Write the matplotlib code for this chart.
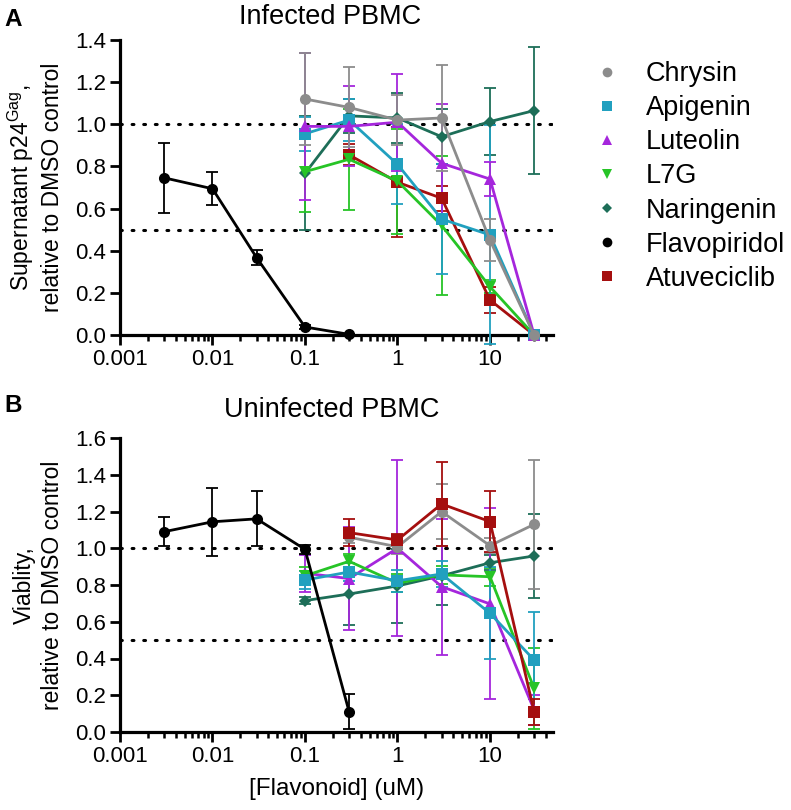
import matplotlib
matplotlib.use("Agg")
import matplotlib.pyplot as plt
from matplotlib.lines import Line2D
from matplotlib.ticker import LogLocator, FixedLocator, NullFormatter, FixedFormatter
import numpy as np

plt.rcParams['font.family'] = ['Liberation Sans', 'DejaVu Sans']
plt.rcParams['mathtext.fontset'] = 'custom'
plt.rcParams['mathtext.rm'] = 'Liberation Sans'
plt.rcParams['mathtext.it'] = 'Liberation Sans:italic'

# ---------------- data ----------------
conc_flavo = [0.003, 0.01, 0.03, 0.1, 0.3]
conc_fl = [0.1, 0.3, 1, 3, 10, 30]
conc_from03 = [0.3, 1, 3, 10, 30]

names = ["Chrysin", "Apigenin", "Luteolin", "L7G", "Naringenin", "Flavopiridol", "Atuveciclib"]
colors = {"Chrysin": "#8c8c8c", "Apigenin": "#21a0bf", "Luteolin": "#a526dc",
          "L7G": "#26c426", "Naringenin": "#1d6e58", "Flavopiridol": "#000000",
          "Atuveciclib": "#a50f0f"}
markers = {"Chrysin": "o", "Apigenin": "s", "Luteolin": "^", "L7G": "v",
           "Naringenin": "D", "Flavopiridol": "o", "Atuveciclib": "s"}

# Panel A: infected PBMC, supernatant p24
a_chrysin = [1.12, 1.08, 1.02, 1.03, 0.45, 0.0]
a_chrysin_err = [0.22, 0.19, 0.12, 0.25, 0.10, 0.0]
a_apigenin = [0.955, 1.02, 0.81, 0.55, 0.475, 0.0]
a_apigenin_err = [0.08, 0.10, 0.19, 0.26, 0.52, 0.0]
a_luteolin = [0.99, 0.99, 1.01, 0.815, 0.74, 0.0]
a_luteolin_err = [0.35, 0.19, 0.23, 0.28, 0.08, 0.0]
a_l7g = [0.775, 0.834, 0.73, 0.52, 0.229, 0.0]
a_l7g_err = [0.19, 0.24, 0.25, 0.33, 0.03, 0.0]
a_naringenin = [0.767, 1.04, 1.03, 0.941, 1.013, 1.065]
a_naringenin_err = [0.27, 0.08, 0.12, 0.13, 0.16, 0.30]
a_flavo = [0.746, 0.694, 0.367, 0.038, 0.003]
a_flavo_err = [0.165, 0.078, 0.035, 0.01, 0.0]
a_atuveciclib = [0.855, 0.725, 0.649, 0.166, 0.0]
a_atuveciclib_err = [0.05, 0.26, 0.06, 0.06, 0.0]

# Panel B: uninfected PBMC, viability
b_chrysin = [1.06, 1.008, 1.199, 1.014, 1.13]
b_chrysin_err = [0.03, 0.04, 0.15, 0.04, 0.35]
b_apigenin = [0.827, 0.871, 0.823, 0.86, 0.646, 0.392]
b_apigenin_err = [0.05, 0.05, 0.06, 0.07, 0.25, 0.26]
b_luteolin = [0.864, 0.835, 1.0, 0.791, 0.697, 0.12]
b_luteolin_err = [0.10, 0.28, 0.48, 0.37, 0.52, 0.08]
b_l7g = [0.85, 0.929, 0.81, 0.855, 0.845, 0.238]
b_l7g_err = [0.05, 0.04, 0.05, 0.05, 0.05, 0.22]
b_naringenin = [0.715, 0.751, 0.795, 0.85, 0.921, 0.958]
b_naringenin_err = [0.02, 0.17, 0.20, 0.16, 0.04, 0.23]
b_flavo = [1.09, 1.144, 1.16, 0.994, 0.11]
b_flavo_err = [0.08, 0.185, 0.15, 0.025, 0.095]
b_atuveciclib = [1.085, 1.045, 1.241, 1.145, 0.11]
b_atuveciclib_err = [0.075, 0.03, 0.23, 0.165, 0.07]

panel_a = [
    ("Naringenin", conc_fl, a_naringenin, a_naringenin_err),
    ("Atuveciclib", conc_from03, a_atuveciclib, a_atuveciclib_err),
    ("L7G", conc_fl, a_l7g, a_l7g_err),
    ("Apigenin", conc_fl, a_apigenin, a_apigenin_err),
    ("Luteolin", conc_fl, a_luteolin, a_luteolin_err),
    ("Chrysin", conc_fl, a_chrysin, a_chrysin_err),
    ("Flavopiridol", conc_flavo, a_flavo, a_flavo_err),
]
panel_b = [
    ("Naringenin", conc_fl, b_naringenin, b_naringenin_err),
    ("Luteolin", conc_fl, b_luteolin, b_luteolin_err),
    ("L7G", conc_fl, b_l7g, b_l7g_err),
    ("Apigenin", conc_fl, b_apigenin, b_apigenin_err),
    ("Chrysin", conc_from03, b_chrysin, b_chrysin_err),
    ("Atuveciclib", conc_from03, b_atuveciclib, b_atuveciclib_err),
    ("Flavopiridol", conc_flavo, b_flavo, b_flavo_err),
]

xtick_vals = [0.001, 0.01, 0.1, 1, 10]
xtick_labels = ["0.001", "0.01", "0.1", "1", "10"]

# ---------------- figure ----------------
W, H = 791, 810
fig = plt.figure(figsize=(W / 100, H / 100), dpi=100)

def px_axes(left, top, right, bottom):
    return fig.add_axes([left / W, 1 - bottom / H, (right - left) / W, (bottom - top) / H])

axA = px_axes(120, 40, 553, 335)
axB = px_axes(120, 438, 553, 732)

def style(ax, ymax, ylabel):
    ax.set_xscale("log")
    ax.set_xlim(0.001, 48)
    ax.set_ylim(0, ymax)
    ticks = np.arange(0, ymax + 0.001, 0.2)
    ax.set_yticks(ticks)
    ax.set_yticklabels([f"{v:.1f}" for v in ticks])
    ax.xaxis.set_major_locator(FixedLocator(xtick_vals))
    ax.xaxis.set_major_formatter(FixedFormatter(xtick_labels))
    ax.xaxis.set_minor_locator(LogLocator(base=10, subs=np.arange(2, 10), numticks=20))
    ax.xaxis.set_minor_formatter(NullFormatter())
    for s in ("top", "right"):
        ax.spines[s].set_visible(False)
    for s in ("left", "bottom"):
        ax.spines[s].set_linewidth(2.3)
    ax.tick_params(axis="both", which="major", direction="out", length=7, width=2.0,
                   labelsize=16, pad=3)
    ax.tick_params(axis="x", which="minor", direction="out", length=4, width=1.8)
    ax.set_ylabel(ylabel, fontsize=16.5, linespacing=1.25)
    ax.yaxis.set_label_coords(-0.13, 0.5)
    for yv in (1.0, 0.5):
        ax.axhline(yv, color="black", lw=2.2, ls=(0, (0.6, 3.2)), dash_capstyle="round",
                   zorder=1)

def draw(ax, series):
    for name, xs, ys, es in series:
        c = colors[name]
        cont = ax.errorbar(xs, ys, yerr=es, color=c, lw=2.0, elinewidth=1.3, capsize=4.5,
                           capthick=1.3, marker=markers[name],
                           markersize=(6.5 if markers[name] == "D" else 8),
                           clip_on=False, zorder=3)
        cont.lines[0].set_markeredgewidth(0)
        for cap in cont.lines[1]:
            cap.set_clip_on(False)
        for bar in cont.lines[2]:
            bar.set_clip_on(False)

style(axA, 1.4, "Supernatant p24$^{\\mathrm{Gag}}$,\nrelative to DMSO control")
style(axB, 1.6, "Viablity,\nrelative to DMSO control")
draw(axA, panel_a)
draw(axB, panel_b)
axB.set_xlabel("[Flavonoid] (uM)", fontsize=17.5, labelpad=8)

fig.text(330 / W, 1 - 17 / H, "Infected PBMC", ha="center", va="center", fontsize=19.5)
fig.text(332 / W, 1 - 410 / H, "Uninfected PBMC", ha="center", va="center", fontsize=19.5)
fig.text(4 / W, 1 - 20 / H, "A", ha="left", va="center", fontsize=17.5, fontweight="bold")
fig.text(4 / W, 1 - 406 / H, "B", ha="left", va="center", fontsize=17.5, fontweight="bold")

handles = [Line2D([], [], ls="none", marker=markers[n], color=colors[n],
                  markersize=(5.5 if markers[n] == "D" else 7), markeredgewidth=0)
           for n in names]
fig.legend(handles, names, loc="upper left", bbox_to_anchor=(593 / W, 1 - 61 / H),
           frameon=False, fontsize=19.5, handlelength=1.0, handletextpad=0.95,
           labelspacing=0.3, borderpad=0, borderaxespad=0)

fig.savefig("out.png", dpi=100)
